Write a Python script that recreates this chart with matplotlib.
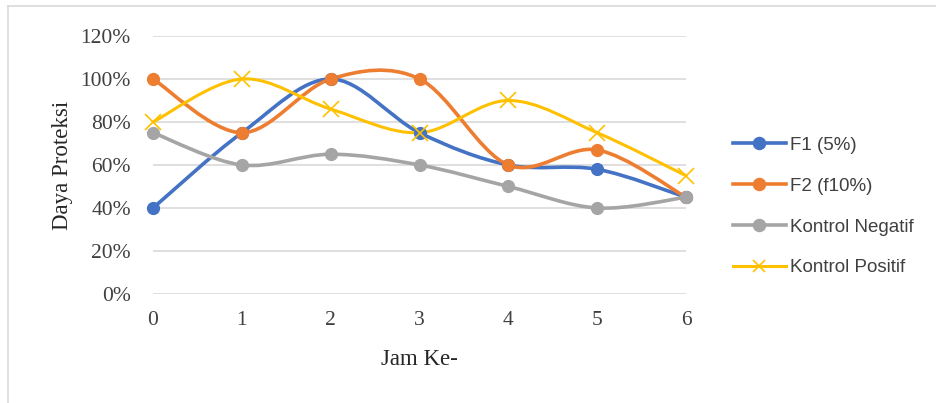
import numpy as np
import matplotlib.pyplot as plt
from matplotlib.path import Path
from matplotlib.patches import PathPatch
from matplotlib.lines import Line2D
from matplotlib.ticker import FuncFormatter

jam = [0, 1, 2, 3, 4, 5, 6]
f1 = [40, 75, 100, 75, 60, 58, 45]
f2 = [100, 75, 100, 100, 60, 67, 45]
k_neg = [75, 60, 65, 60, 50, 40, 45]
k_pos = [80, 100, 86, 75, 90, 75, 55]
labels = ['F1 (5%)', 'F2 (f10%)', 'Kontrol Negatif', 'Kontrol Positif']
colors = ['#4472C4', '#ED7D31', '#A5A5A5', '#FFC000']


def smooth_path(x, y):
    # bezier path like excel's "smoothed line"
    x = np.asarray(x, float)
    y = np.asarray(y, float)
    verts = [(x[0], y[0])]
    codes = [Path.MOVETO]
    n = len(x)
    for i in range(n - 1):
        p0 = i - 1 if i > 0 else i
        p3 = i + 2 if i + 2 < n else i + 1
        c1 = (x[i] + (x[i + 1] - x[p0]) / 6, y[i] + (y[i + 1] - y[p0]) / 6)
        c2 = (x[i + 1] - (x[p3] - x[i]) / 6, y[i + 1] - (y[p3] - y[i]) / 6)
        verts += [c1, c2, (x[i + 1], y[i + 1])]
        codes += [Path.CURVE4] * 3
    return Path(verts, codes)


fig = plt.figure(figsize=(9.36, 4.03), dpi=100)
ax = fig.add_axes([0.1635, 0.2705, 0.5695, 0.6402])

series = [f1, f2, k_neg, k_pos]
for vals, col in zip(series, colors):
    lw = 2.6 if col != '#FFC000' else 2.2
    ax.add_patch(PathPatch(smooth_path(jam, vals), facecolor='none',
                           edgecolor=col, lw=lw, clip_on=False, zorder=3,
                           capstyle='round', joinstyle='round'))
    if col == '#FFC000':
        ax.plot(jam, vals, ls='none', marker='x', ms=11, mew=1.2,
                color=col, clip_on=False, zorder=4)
    else:
        ax.plot(jam, vals, ls='none', marker='o', ms=8.5, color=col,
                clip_on=False, zorder=4)

handles = [Line2D([], [], color=c, lw=2.6 if c != '#FFC000' else 2.2,
                  marker='x' if c == '#FFC000' else 'o',
                  ms=9 if c == '#FFC000' else 8.5, mew=1.2, label=l)
           for c, l in zip(colors, labels)]

ax.set_xlim(0, 6)
ax.set_ylim(0, 120)
ax.set_xticks(jam)
ax.set_yticks(range(0, 121, 20))
ax.yaxis.set_major_formatter(FuncFormatter(lambda v, p: f'{v:.0f}%'))
ax.grid(axis='y', color='#d9d9d9', lw=1.2)
ax.set_axisbelow(True)
for s in ax.spines.values():
    s.set_visible(False)
ax.tick_params(length=0, labelsize=15.5, labelcolor='#404040')
ax.tick_params(axis='y', pad=16)
ax.tick_params(axis='x', pad=12)
for t in ax.get_xticklabels() + ax.get_yticklabels():
    t.set_family('Liberation Serif')

ax.set_ylabel('Daya Proteksi', family='Liberation Serif', fontsize=16.5,
              color='#262626', labelpad=5)
ax.set_xlabel('Jam Ke-', family='Liberation Serif', fontsize=16.5,
              color='#262626', labelpad=14)

leg = fig.legend(handles=handles, loc='center left',
                 bbox_to_anchor=(0.783, 0.4876), frameon=False,
                 prop={'family': 'Liberation Sans', 'size': 13.5},
                 handlelength=2.83, handletextpad=0.2, labelspacing=1.27,
                 borderaxespad=0, borderpad=0)
for t in leg.get_texts():
    t.set_color('#404040')

fig.add_artist(Line2D([8 / 936, 8 / 936], [0, 1 - 6 / 403],
                      transform=fig.transFigure, color='#d9d9d9', lw=1.2))
fig.add_artist(Line2D([8 / 936, 1], [1 - 6 / 403, 1 - 6 / 403],
                      transform=fig.transFigure, color='#d9d9d9', lw=1.2))

fig.savefig('out.png', dpi=100)
